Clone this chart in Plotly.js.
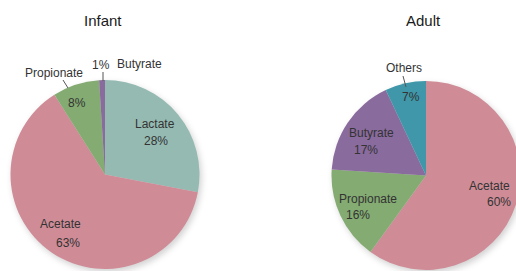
<!DOCTYPE html>
<html>
<head>
<meta charset="utf-8">
<script src="https://cdn.plot.ly/plotly-3.0.1.min.js"></script>
<style>
html,body{margin:0;padding:0;background:#fff;overflow:hidden;width:516px;height:271px;}
#chart{width:524px;height:271px;}
.pielayer .trace{filter:drop-shadow(2px 3px 3px rgba(0,0,0,0.18));}
</style>
</head>
<body>
<div id="chart"></div>
<script>
// ---- data ----
const infantLabels = ["Lactate", "Acetate", "Propionate", "Butyrate"];
const infantValues = [28, 63, 8, 1];
const adultLabels = ["Acetate", "Propionate", "Butyrate", "Others"];
const adultValues = [60, 16, 17, 7];
const panelTitles = ["Infant", "Adult"];

const colorMap = {
  "Lactate": "#95bab2",
  "Acetate": "#cf8c97",
  "Propionate": "#84ab72",
  "Butyrate": "#8a6b9e",
  "Others": "#3f97a9"
};

const W = 524, H = 271;
const px = (a, b) => [a / W, b / W];
const py = (top, bottom) => [1 - bottom / H, 1 - top / H];

const font = {family: "Liberation Sans, Arial, sans-serif", size: 12, color: "#333333"};

const traces = [
  {
    type: "pie", labels: infantLabels, values: infantValues,
    sort: false, direction: "clockwise", rotation: 0,
    marker: {colors: infantLabels.map(l => colorMap[l]), line: {width: 0}},
    textinfo: "none", hoverinfo: "none",
    domain: {x: px(10.5, 199.5), y: py(80, 269)}
  },
  {
    type: "pie", labels: adultLabels, values: adultValues,
    sort: false, direction: "clockwise", rotation: 0,
    marker: {colors: adultLabels.map(l => colorMap[l]), line: {width: 0}},
    textinfo: "none", hoverinfo: "none",
    domain: {x: px(331.5, 520.5), y: py(81, 270)}
  }
];

// label placement (pixel centres of name line and percent line)
const infantLabelPos = {
  "Lactate":    {name: [155, 124], pct: [156, 141]},
  "Acetate":    {name: [60, 224],  pct: [68, 243]},
  "Propionate": {name: [54, 73],   pct: [77, 103], line: [[63, 80], [68, 88]]},
  "Butyrate":   {name: [139, 64],  pct: [101, 65], line: [[103, 72], [103, 81]]}
};
const adultLabelPos = {
  "Acetate":    {name: [489, 186], pct: [499, 202]},
  "Propionate": {name: [368, 199], pct: [358, 215]},
  "Butyrate":   {name: [371, 133], pct: [366, 150]},
  "Others":     {name: [404, 68],  pct: [411, 97], line: [[403, 76], [406, 87]]}
};

const annotations = [];
const txt = (s, x, y, extra) => annotations.push(Object.assign({
  text: s, xref: "paper", yref: "paper", x: x / W, y: 1 - y / H,
  xanchor: "center", yanchor: "middle", showarrow: false, font: font
}, extra || {}));

txt(panelTitles[0], 103, 20, {font: {family: font.family, size: 15, color: "#1a1a1a"}});
txt(panelTitles[1], 423, 20, {font: {family: font.family, size: 15, color: "#1a1a1a"}});

const shapes = [];
function addLabels(labels, values, pos) {
  labels.forEach((l, i) => {
    const p = pos[l];
    txt(l, p.name[0], p.name[1]);
    txt(values[i] + "%", p.pct[0], p.pct[1]);
    if (p.line) {
      shapes.push({type: "line", xref: "paper", yref: "paper",
        x0: p.line[0][0] / W, y0: 1 - p.line[0][1] / H,
        x1: p.line[1][0] / W, y1: 1 - p.line[1][1] / H,
        line: {color: "#555555", width: 1}});
    }
  });
}
addLabels(infantLabels, infantValues, infantLabelPos);
addLabels(adultLabels, adultValues, adultLabelPos);

const layout = {
  width: W, height: H,
  margin: {l: 0, r: 0, t: 0, b: 0},
  paper_bgcolor: "#ffffff",
  showlegend: false,
  font: font,
  annotations: annotations,
  shapes: shapes
};

Plotly.newPlot("chart", traces, layout, {displayModeBar: false, staticPlot: true});
</script>
</body>
</html>
